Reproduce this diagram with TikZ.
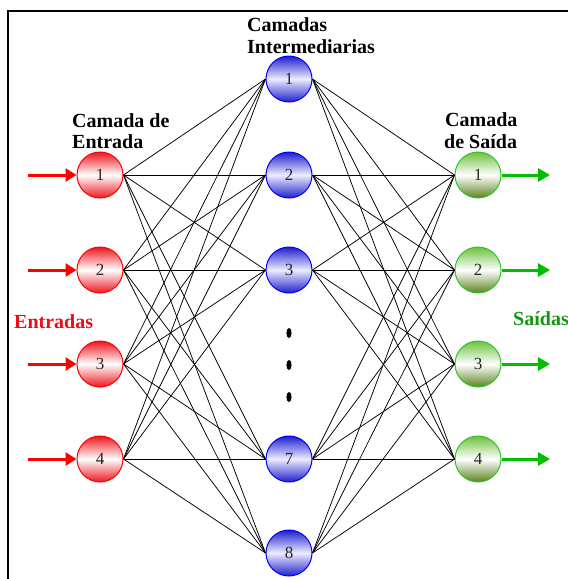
\documentclass[tikz,border=0pt]{standalone}
\usepackage{fontspec}
\setmainfont{Liberation Serif}
\usetikzlibrary{arrows.meta}

\definecolor{inred}{RGB}{236,22,30}
\definecolor{inredline}{RGB}{255,0,0}
\definecolor{hidblue}{RGB}{30,30,205}
\definecolor{hidmid}{RGB}{236,236,255}
\definecolor{hidline}{RGB}{0,0,255}
\definecolor{outtop}{RGB}{110,192,60}
\definecolor{outbot}{RGB}{92,130,30}
\definecolor{outborder}{RGB}{40,200,40}
\definecolor{outgreen}{RGB}{0,190,0}
\definecolor{labelred}{RGB}{240,10,20}
\definecolor{labelgreen}{RGB}{20,150,20}

\begin{document}
\begin{tikzpicture}[x=1pt,y=-1pt,
  neuron/.style={circle, minimum size=46pt, inner sep=0pt, line width=1pt,
                 text=black!85, font=\fontsize{17}{17}\selectfont},
  innode/.style={neuron, draw=inredline, top color=inred, bottom color=inred, middle color=white},
  hidnode/.style={neuron, draw=hidline, top color=hidblue, bottom color=hidblue, middle color=hidmid},
  outnode/.style={neuron, draw=outborder, top color=outtop, bottom color=outbot, middle color=white},
  link/.style={line width=0.75pt, black},
  inarrowline/.style={line width=3pt, inredline, -{Triangle[length=11pt,width=13pt]}},
  outarrowline/.style={line width=3pt, outgreen, -{Triangle[length=12pt,width=13pt]}},
  title/.style={font=\bfseries\fontsize{20}{22}\selectfont, anchor=base west, inner sep=0pt},
  frameline/.style={line width=2pt, black}
]
\useasboundingbox (0,0) rectangle (568,579);

% outer frame (top and left edges)
\draw[frameline] (568,11) -- (8,11) -- (8,579);

% layer titles
\node[title] (hidTitleA) at (247,31) {Camadas};
\node[title] (hidTitleB) at (247,53) {Intermediarias};
\node[title] (inTitleA) at (72,127) {Camada de};
\node[title] (inTitleB) at (72,148) {Entrada};
\node[title] (outTitleA) at (445,126) {Camada};
\node[title] (outTitleB) at (444,148) {de Saída};
\node[title, text=labelred] (inLabel) at (14,328) {Entradas};
\node[title, text=labelgreen] (outLabel) at (513,325) {Saídas};

% input layer
\foreach \k/\y in {1/175,2/270,3/364,4/459}
  \node[innode] (i\k) at (100,\y) {\k};

% hidden layer
\foreach \k/\y in {1/79,2/175,3/270,7/459,8/553}
  \node[hidnode] (h\k) at (289,\y) {\k};

% output layer
\foreach \k/\y in {1/175,2/270,3/364,4/459}
  \node[outnode] (o\k) at (478,\y) {\k};

% ellipsis between hidden neurons
\foreach \y in {333,365,397}
  \fill (289,\y) ellipse [x radius=2.6pt, y radius=5pt];

% full connections
\foreach \a in {1,2,3,4}
  \foreach \b in {1,2,3,7,8}
    \draw[link] (i\a.east) -- (h\b.west);
\foreach \b in {1,2,3,7,8}
  \foreach \c in {1,2,3,4}
    \draw[link] (h\b.east) -- (o\c.west);

% input and output arrows
\foreach \k/\y in {1/175,2/270,3/364,4/459} {
  \coordinate (s\k) at (28,\y);
  \coordinate (t\k) at (550,\y);
  \draw[inarrowline] (s\k) -- (i\k.west);
  \draw[outarrowline] (o\k.east) -- (t\k);
}
\end{tikzpicture}
\end{document}
